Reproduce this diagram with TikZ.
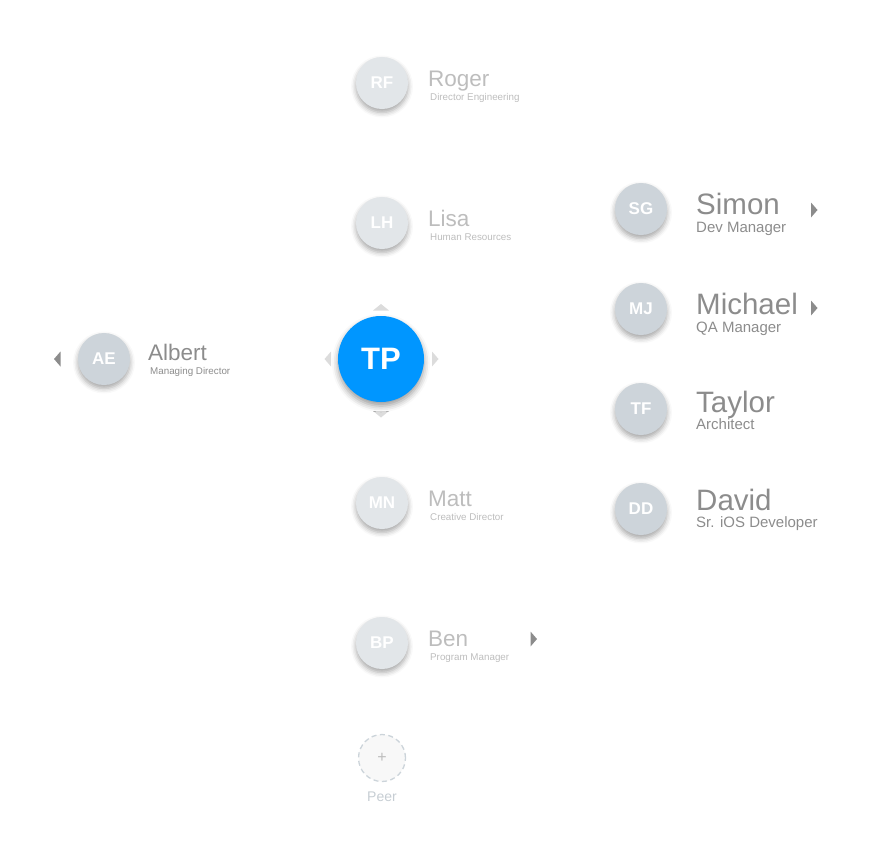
\documentclass[tikz,border=0pt]{standalone}
\usepackage{fontspec}
\setmainfont{Liberation Sans}
\usetikzlibrary{shadows.blur}
\definecolor{fadecirc}{HTML}{E2E6E9}
\definecolor{actcirc}{HTML}{CDD4DA}
\definecolor{fadetext}{HTML}{BDBDBD}
\definecolor{acttext}{HTML}{8C8C8C}
\definecolor{tpblue}{HTML}{0096FF}
\definecolor{navlight}{HTML}{DCDCDC}
\definecolor{navdark}{HTML}{8C8C8C}
\definecolor{peerline}{HTML}{CCD4DA}
\definecolor{peerfill}{HTML}{F8F8F8}
\definecolor{peertext}{HTML}{C6CDD3}
\tikzset{
  avatar/.style={circle, minimum size=52pt, inner sep=0pt, text=white,
    font=\fontsize{17}{17}\selectfont\bfseries,
    blur shadow={shadow xshift=0pt, shadow yshift=-3.5pt, shadow blur radius=5pt, shadow opacity=35}},
  fadeav/.style={avatar, fill=fadecirc},
  actav/.style={avatar, fill=actcirc},
  bigname/.style={anchor=base west, inner sep=0pt, text=acttext, font=\fontsize{29.5}{29.5}\selectfont},
  bigrole/.style={anchor=base west, inner sep=0pt, text=acttext, font=\fontsize{15}{15}\selectfont},
  smallname/.style={anchor=base west, inner sep=0pt, font=\fontsize{22.5}{22.5}\selectfont},
  smallrole/.style={anchor=base west, inner sep=0pt, font=\fontsize{9.8}{9.8}\selectfont},
  trir/.pic={\fill (-3,-7.5) -- (-3,7.5) -- (3.5,0) -- cycle;},
  tril/.pic={\fill (3,-7.5) -- (3,7.5) -- (-3.5,0) -- cycle;},
  triu/.pic={\fill (-8,3) -- (8,3) -- (0,-3.5) -- cycle;},
  trid/.pic={\fill (-8,-3) -- (8,-3) -- (0,3.5) -- cycle;},
}
\begin{document}
\begin{tikzpicture}[x=1pt,y=-1pt]
\useasboundingbox (0,0) rectangle (872,854);

% faded column
\node[fadeav] (rf) at (382,83) {RF};
\node[smallname, text=fadetext] (rfn) at (428,86.5) {Roger};
\node[smallrole, text=fadetext] (rfr) at (430,100.5) {Director Engineering};

\node[fadeav] (lh) at (382,223) {LH};
\node[smallname, text=fadetext] (lhn) at (428,226.5) {Lisa};
\node[smallrole, text=fadetext] (lhr) at (430,240.5) {Human Resources};

\node[fadeav] (mn) at (382,503) {MN};
\node[smallname, text=fadetext] (mnn) at (428,506.5) {Matt};
\node[smallrole, text=fadetext] (mnr) at (430,520.5) {Creative Director};

\node[fadeav] (bp) at (382,643) {BP};
\node[smallname, text=fadetext] (bpn) at (428,646.5) {Ben};
\node[smallrole, text=fadetext] (bpr) at (430,660.5) {Program Manager};
\pic[navdark] (bparr) at (533.5,639) {trir};

% peer placeholder
\node[circle, minimum size=47pt, inner sep=0pt, draw=peerline, line width=1.3pt,
  dash pattern=on 5pt off 3.5pt, fill=peerfill, text=fadetext,
  font=\fontsize{16}{16}\selectfont] (peer) at (382,758) {+};
\node[text=peertext, font=\fontsize{14}{14}\selectfont, inner sep=0pt] (peerl) at (382,797) {Peer};

% center
\pic[navlight] (tpu) at (381,307.5) {triu};
\pic[navlight] (tpd) at (381,414) {trid};
\pic[navlight] (tpl) at (328,359) {tril};
\pic[navlight] (tpr) at (435,359) {trir};
\node[circle, minimum size=86pt, inner sep=0pt, fill=tpblue, text=white,
  font=\fontsize{31}{31}\selectfont\bfseries,
  blur shadow={shadow xshift=0pt, shadow yshift=-4pt, shadow blur radius=6pt, shadow opacity=40}] (tp) at (381,359) {TP};

% left
\pic[navdark] (aearr) at (57.5,359) {tril};
\node[actav] (ae) at (104,359) {AE};
\node[smallname, text=acttext] (aen) at (148,360) {Albert};
\node[smallrole, text=acttext] (aer) at (150,374.5) {Managing Director};

% right column
\node[actav] (sg) at (641,209) {SG};
\node[bigname] (sgn) at (696,214) {Simon};
\node[bigrole] (sgr) at (696,232) {Dev Manager};
\pic[navdark] (sgarr) at (814,210) {trir};

\node[actav] (mj) at (641,309) {MJ};
\node[bigname] (mjn) at (696,314) {Michael};
\node[bigrole] (mjr) at (696,332) {QA Manager};
\pic[navdark] (mjarr) at (814,308) {trir};

\node[actav] (tf) at (641,409) {TF};
\node[bigname] (tfn) at (696,412) {Taylor};
\node[bigrole] (tfr) at (696,429) {Architect};

\node[actav] (dd) at (641,509) {DD};
\node[bigname] (ddn) at (696,510) {David};
\node[bigrole] (ddr) at (696,527) {Sr. iOS Developer};
\end{tikzpicture}
\end{document}
